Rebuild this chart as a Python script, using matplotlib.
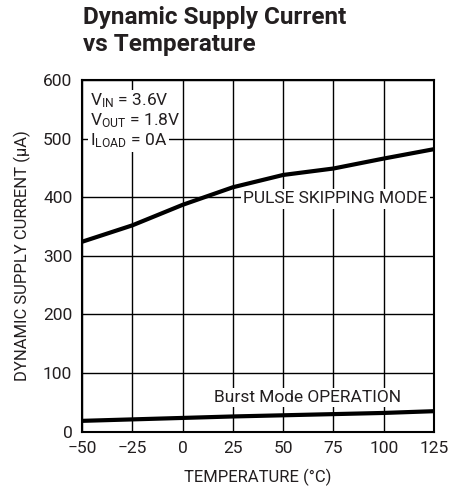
import matplotlib
matplotlib.use("Agg")
import matplotlib.pyplot as plt

plt.rcParams['font.family'] = ['Roboto', 'DejaVu Sans']
plt.rcParams['mathtext.fontset'] = 'custom'
plt.rcParams['mathtext.rm'] = 'Roboto'

temp = [-50, -25, 0, 25, 50, 75, 100, 125]
pulse_skip = [324, 352, 387, 417, 438, 449, 466, 482]
burst = [18.5, 21, 23.5, 26, 28, 30, 32, 35]

xticks = [-50, -25, 0, 25, 50, 75, 100, 125]
xlabels = ["\u221250", "\u221225", "0", "25", "50", "75", "100", "125"]
yticks = [0, 100, 200, 300, 400, 500, 600]

ink = "#231f20"

fig = plt.figure(figsize=(4.66, 4.91), dpi=100)
ax = fig.add_axes([82 / 466, 1 - 431.7 / 491, 352 / 466, 351.7 / 491])

ax.plot(temp, pulse_skip, color="black", lw=3, solid_capstyle="butt", zorder=3)
ax.plot(temp, burst, color="black", lw=3, solid_capstyle="butt", zorder=3)

ax.set_xlim(-50, 125)
ax.set_ylim(0, 600)
ax.set_xticks(xticks)
ax.set_xticklabels(xlabels)
ax.set_yticks(yticks)
ax.grid(True, color="black", lw=1)
ax.tick_params(length=0, labelsize=12.5, labelcolor=ink)
ax.tick_params(axis="x", pad=7)
ax.tick_params(axis="y", pad=7)
for s in ax.spines.values():
    s.set_linewidth(1.5)

ax.set_xlabel("TEMPERATURE (\u00b0C)", fontsize=12, labelpad=9, color=ink)
ax.set_ylabel("DYNAMIC SUPPLY CURRENT (\u03bcA)", fontsize=12, labelpad=9, color=ink)

bbox = dict(facecolor="white", edgecolor="none", pad=1.5)
kw = dict(fontsize=12.5, color=ink, bbox=bbox, zorder=4)
ax.text(-46, 564, "$\\mathregular{V_{IN}}$ = 3.6V", va="center", ha="left", **kw)
ax.text(-46, 531, "$\\mathregular{V_{OUT}}$ = 1.8V", va="center", ha="left", **kw)
ax.text(-46, 497, "$\\mathregular{I_{LOAD}}$ = 0A", va="center", ha="left", **kw)
ax.text(76, 397, "PULSE SKIPPING MODE", va="center", ha="center", **kw)
ax.text(62, 59, "Burst Mode OPERATION", va="center", ha="center", **kw)

fig.text(83 / 466, 1 - 6 / 491, "Dynamic Supply Current\nvs Temperature", fontsize=17.5,
         fontweight="bold", ha="left", va="top", linespacing=1.25, color=ink)

fig.savefig("out.png", dpi=100)
